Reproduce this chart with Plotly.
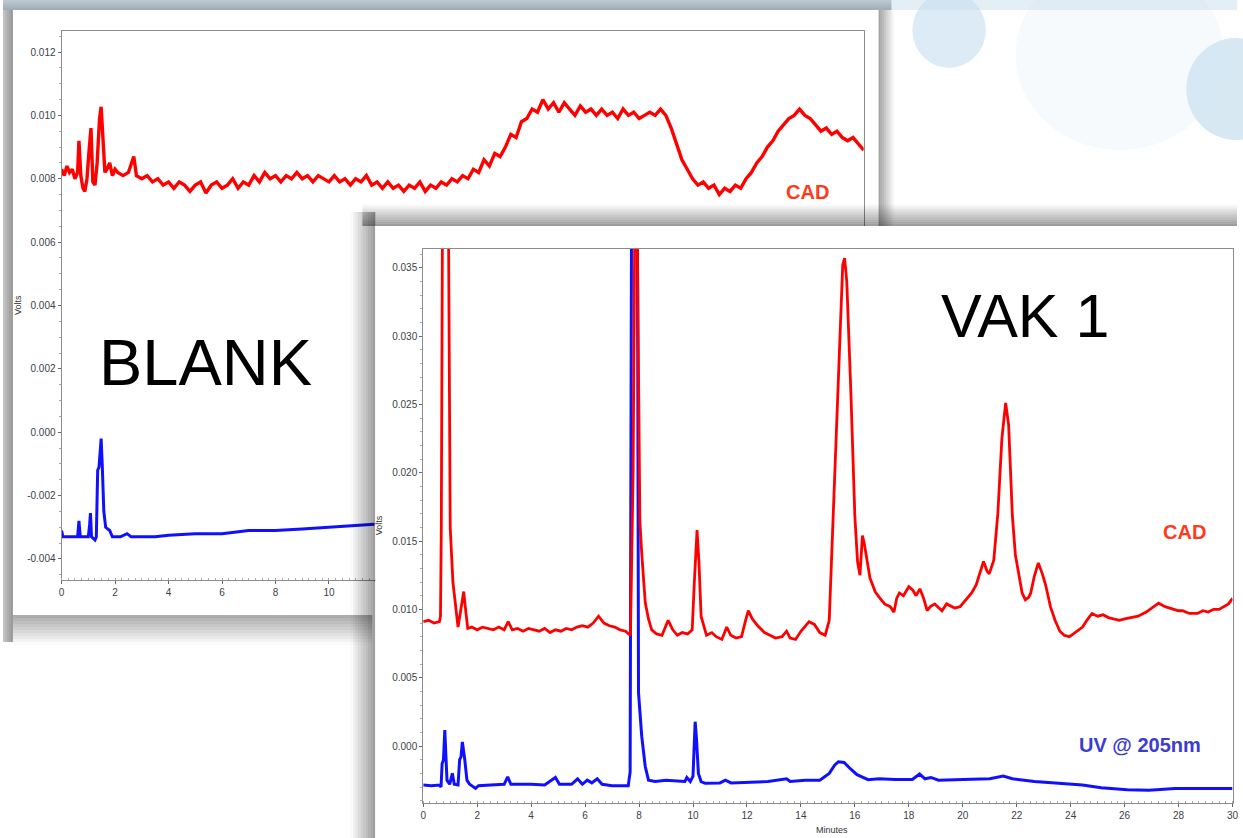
import plotly.graph_objects as go

W, H = 1243, 838

# ---------------- DATA ----------------
# BLANK run, CAD detector (red)
blank_cad_t = [0, 0.1, 0.2, 0.3, 0.4, 0.5, 0.6, 0.65, 0.72, 0.8, 0.87, 0.95, 1.02, 1.1, 1.17, 1.25,
               1.33, 1.42, 1.48, 1.55, 1.62, 1.7, 1.8, 1.9, 2.0, 2.1, 2.3, 2.5, 2.7, 2.8, 3.0, 3.2,
               3.4, 3.6, 3.8, 4.0, 4.2, 4.4, 4.6, 4.8, 5.0, 5.2, 5.4, 5.6, 5.8, 6.0, 6.2, 6.4, 6.6,
               6.8, 7.0, 7.2, 7.4, 7.6, 7.8, 8.0, 8.2, 8.4, 8.6, 8.8, 9.0, 9.2, 9.4, 9.6, 9.8, 10.0,
               10.2, 10.4, 10.6, 10.8, 11.0, 11.2, 11.4, 11.6, 11.8, 12.0, 12.2, 12.4, 12.6, 12.8,
               13.0, 13.2, 13.4, 13.6, 13.8, 14.0, 14.2, 14.4, 14.6, 14.8, 15.0, 15.2, 15.4, 15.6,
               15.8, 16.0, 16.2, 16.4, 16.6, 16.8, 17.0, 17.2, 17.4, 17.6, 17.8, 18.0, 18.2, 18.4,
               18.6, 18.8, 19.0, 19.2, 19.4, 19.6, 19.8, 20.0, 20.2, 20.4, 20.6, 20.8, 21.0, 21.2,
               21.4, 21.6, 21.8, 22.0, 22.2, 22.4, 22.6, 22.8, 23.0, 23.2, 23.4, 23.6, 23.8, 24.0,
               24.2, 24.4, 24.6, 24.8, 25.0, 25.2, 25.4, 25.6, 25.8, 26.0, 26.2, 26.4, 26.6, 26.8,
               27.0, 27.2, 27.4, 27.6, 27.8, 28.0, 28.2, 28.4, 28.6, 28.8, 29.0, 29.2, 29.4, 29.6,
               29.8, 30.0]
blank_cad_v = [0.0083, 0.0081, 0.0084, 0.0082, 0.0083, 0.0080, 0.0082, 0.0092, 0.0081, 0.0077,
               0.0076, 0.0080, 0.0088, 0.0096, 0.0079, 0.0078, 0.0085, 0.0099, 0.01027, 0.0092,
               0.0082, 0.0083, 0.0085, 0.0081, 0.0083, 0.0082, 0.0081, 0.0082, 0.0087, 0.0081,
               0.0080, 0.0081, 0.0079, 0.0080, 0.0078, 0.0079, 0.0077, 0.0079, 0.0078, 0.0076,
               0.0078, 0.0079, 0.00755, 0.0078, 0.0079, 0.0077, 0.0078, 0.0080, 0.0077, 0.0079,
               0.0078, 0.0081, 0.0079, 0.0082, 0.0080, 0.0081, 0.0079, 0.0081, 0.0080, 0.0082,
               0.0080, 0.0081, 0.0079, 0.0081, 0.0080, 0.0079, 0.0081, 0.0079, 0.0080, 0.0078,
               0.0080, 0.0079, 0.0081, 0.0078, 0.0079, 0.0077, 0.0079, 0.0077, 0.0078, 0.0076,
               0.0078, 0.0077, 0.0079, 0.0076, 0.0078, 0.0077, 0.0079, 0.0078, 0.0080, 0.0079,
               0.0081, 0.0080, 0.0083, 0.0082, 0.0086, 0.0084, 0.0088, 0.0087, 0.0090, 0.0094,
               0.0093, 0.0098, 0.0099, 0.0102, 0.0101, 0.0105, 0.0102, 0.0104, 0.0101, 0.0104,
               0.0102, 0.0100, 0.0103, 0.0101, 0.0102, 0.0100, 0.0102, 0.0100, 0.0101, 0.0099,
               0.0102, 0.0100, 0.0101, 0.0099, 0.0100, 0.0101, 0.0100, 0.0102, 0.0100, 0.0096,
               0.0091, 0.0086, 0.0083, 0.0080, 0.0078, 0.0079, 0.0077, 0.0078, 0.0075, 0.0077,
               0.0076, 0.0078, 0.0077, 0.0080, 0.0082, 0.0085, 0.0087, 0.0090, 0.0092, 0.0095,
               0.0097, 0.0099, 0.0100, 0.0102, 0.0100, 0.0099, 0.0097, 0.0095, 0.0096, 0.0094,
               0.0095, 0.0093, 0.0092, 0.0093, 0.0091, 0.0089]

# BLANK run, UV detector (blue) - visible part only (the rest is behind the VAK 1 sheet)
blank_uv_t = [0, 0.05, 0.6, 0.65, 0.7, 1.0, 1.05, 1.08, 1.12, 1.25, 1.3, 1.35, 1.4, 1.45, 1.48,
              1.52, 1.58, 1.65, 1.8, 1.9, 2.2, 2.45, 2.6, 3.5, 4.0, 5.0, 6.0, 7.0, 8.0, 9.0, 10.0,
              11.0, 11.7]
blank_uv_v = [-0.0031, -0.0033, -0.0033, -0.0028, -0.0033, -0.0033, -0.0029, -0.00255, -0.0033,
              -0.0034, -0.0033, -0.0012, -0.0011, -0.0006, -0.0002, -0.0010, -0.0025, -0.0030,
              -0.0031, -0.0033, -0.0033, -0.0032, -0.0033, -0.0033, -0.00325, -0.0032, -0.0032,
              -0.0031, -0.0031, -0.00305, -0.0030, -0.00295, -0.0029]

# VAK 1 run, CAD detector (red)
vak_cad_t = [0, 0.2, 0.4, 0.6, 0.64, 0.67, 0.71, 0.8, 0.94, 0.97, 1.0, 1.1, 1.17, 1.29, 1.38, 1.5,
             1.58, 1.65, 1.8, 2.0, 2.2, 2.4, 2.6, 2.8, 3.0, 3.15, 3.3, 3.5, 3.7, 3.9, 4.1, 4.3,
             4.5, 4.7, 4.9, 5.1, 5.3, 5.5, 5.7, 5.9, 6.1, 6.3, 6.5, 6.7, 6.9, 7.1, 7.3, 7.5, 7.68,
             7.78, 7.88, 7.98, 8.03, 8.1, 8.23, 8.35, 8.47, 8.65, 8.85, 9.08, 9.25, 9.42, 9.6,
             9.8, 9.97, 10.05, 10.15, 10.22, 10.3, 10.5, 10.7, 10.86, 11.07, 11.25, 11.4, 11.6,
             11.8, 11.95, 12.05, 12.2, 12.4, 12.65, 12.85, 13.06, 13.3, 13.47, 13.6, 13.8, 14.0,
             14.3, 14.5, 14.7, 14.9, 15.05, 15.2, 15.4, 15.55, 15.62, 15.7, 15.85, 16.0, 16.1,
             16.19, 16.28, 16.35, 16.56, 16.75, 16.9, 17.1, 17.31, 17.45, 17.55, 17.65, 17.8,
             18.0, 18.15, 18.27, 18.41, 18.55, 18.68, 18.8, 18.96, 19.1, 19.23, 19.4, 19.5, 19.7,
             19.9, 20.1, 20.33, 20.5, 20.6, 20.77, 20.9, 20.98, 21.15, 21.3, 21.45, 21.59, 21.7,
             21.84, 21.95, 22.04, 22.2, 22.32, 22.45, 22.52, 22.65, 22.8, 22.95, 23.07, 23.25,
             23.42, 23.6, 23.76, 23.95, 24.1, 24.3, 24.44, 24.6, 24.79, 25.0, 25.2, 25.4, 25.6,
             25.8, 26.0, 26.2, 26.5, 26.8, 27.0, 27.26, 27.5, 27.8, 28.0, 28.15, 28.4, 28.7, 28.9,
             29.1, 29.3, 29.5, 29.7, 29.85, 30.0]
vak_cad_v = [0.0091, 0.0092, 0.0090, 0.0091, 0.0095, 0.016, 0.037, 0.060, 0.037, 0.028, 0.0160,
             0.0120, 0.0108, 0.0087, 0.0098, 0.0113, 0.0098, 0.0086, 0.0087, 0.0085, 0.0087,
             0.0086, 0.0085, 0.0087, 0.0085, 0.0091, 0.0085, 0.0086, 0.0084, 0.0086, 0.0085,
             0.0084, 0.0086, 0.0083, 0.0085, 0.0084, 0.0086, 0.0085, 0.0087, 0.0088, 0.0087,
             0.0090, 0.0095, 0.0090, 0.0088, 0.0087, 0.0085, 0.0084, 0.0081, 0.020, 0.050, 0.030,
             0.0165, 0.0141, 0.0105, 0.0093, 0.0085, 0.0082, 0.0081, 0.0092, 0.0085, 0.0081,
             0.0083, 0.0082, 0.0085, 0.0120, 0.0158, 0.0135, 0.0095, 0.0081, 0.0083, 0.0080,
             0.0078, 0.0087, 0.0081, 0.0079, 0.0080, 0.0092, 0.0099, 0.0093, 0.0088, 0.0083,
             0.0081, 0.0079, 0.0080, 0.0084, 0.0079, 0.0078, 0.0084, 0.0091, 0.0089, 0.0083,
             0.0081, 0.0092, 0.0170, 0.0280, 0.0352, 0.0357, 0.0340, 0.0260, 0.0168, 0.0135,
             0.0125, 0.0154, 0.0148, 0.0123, 0.0113, 0.0109, 0.0104, 0.0102, 0.0098, 0.0108,
             0.0112, 0.0110, 0.01166, 0.0114, 0.0110, 0.0115, 0.0108, 0.0099, 0.0102, 0.0104,
             0.0101, 0.0099, 0.0104, 0.0103, 0.0101, 0.0102, 0.0107, 0.0112, 0.0118, 0.0124,
             0.0135, 0.0128, 0.0126, 0.0136, 0.0170, 0.0225, 0.0251, 0.0235, 0.0168, 0.0140,
             0.0129, 0.0112, 0.0107, 0.0109, 0.0112, 0.0124, 0.0134, 0.0126, 0.0118, 0.0102,
             0.0092, 0.0084, 0.0081, 0.0080, 0.0082, 0.0085, 0.0087, 0.0092, 0.0097, 0.0095,
             0.0096, 0.0094, 0.0093, 0.0092, 0.0093, 0.0094, 0.0095, 0.0098, 0.0101, 0.01045,
             0.0102, 0.0100, 0.0099, 0.0099, 0.0097, 0.0097, 0.0099, 0.0098, 0.0100, 0.0100,
             0.0102, 0.0104, 0.0108]

# VAK 1 run, UV @ 205 nm (blue)
vak_uv_t = [0, 0.3, 0.6, 0.66, 0.7, 0.75, 0.8, 0.84, 0.88, 0.98, 1.08, 1.15, 1.29, 1.35, 1.4,
            1.45, 1.5, 1.54, 1.62, 1.72, 1.94, 2.05, 2.5, 3.0, 3.13, 3.25, 4.0, 4.5, 4.9, 5.05,
            5.5, 5.72, 5.9, 6.08, 6.25, 6.45, 6.63, 7.0, 7.6, 7.67, 7.71, 7.78, 7.9, 7.95, 7.98,
            8.1, 8.23, 8.35, 8.6, 9.0, 9.5, 9.7, 9.77, 9.9, 10.0, 10.05, 10.08, 10.13, 10.2,
            10.3, 10.45, 11.0, 11.2, 11.41, 12.0, 12.78, 13.47, 13.6, 14.16, 14.7, 15.05, 15.25,
            15.39, 15.6, 15.85, 16.08, 16.49, 16.9, 17.5, 18.13, 18.4, 18.6, 18.82, 19.1, 20.33,
            21.0, 21.5, 21.84, 22.66, 23.5, 24.44, 25.13, 26.1, 26.9, 27.87, 29.0, 30.0]
vak_uv_v = [-0.00285, -0.0029, -0.00285, -0.0030, -0.0013, -0.0010, 0.00117, -0.0010, -0.0025,
            -0.0028, -0.0020, -0.0028, -0.00285, -0.0010, -0.0008, 0.0003, -0.0003, -0.0010,
            -0.0025, -0.0028, -0.0031, -0.0029, -0.00285, -0.0028, -0.00225, -0.0028, -0.0028,
            -0.00285, -0.0023, -0.0028, -0.0028, -0.0024, -0.0028, -0.0025, -0.0027, -0.0024,
            -0.0028, -0.0029, -0.0029, -0.0019, 0.030, 0.080, 0.070, 0.030, 0.0039, 0.0007,
            -0.0015, -0.0025, -0.0026, -0.0025, -0.0026, -0.0026, -0.0023, -0.0026, -0.0022,
            0.0010, 0.00178, 0.0005, -0.0020, -0.0026, -0.00273, -0.0027, -0.0025, -0.0027,
            -0.00265, -0.0026, -0.0024, -0.0026, -0.0025, -0.0025, -0.0020, -0.0014, -0.00115,
            -0.0012, -0.0017, -0.0021, -0.00246, -0.0024, -0.00245, -0.00245, -0.00205, -0.0024,
            -0.0023, -0.0025, -0.00244, -0.0024, -0.0022, -0.0024, -0.0026, -0.0027, -0.00285,
            -0.00305, -0.0032, -0.00323, -0.0031, -0.0031, -0.0031]

# axis ticks
minute_ticks = [0, 2, 4, 6, 8, 10, 12, 14, 16, 18, 20, 22, 24, 26, 28, 30]
blank_volt_ticks = [-0.004, -0.002, 0.0, 0.002, 0.004, 0.006, 0.008, 0.010, 0.012]
blank_volt_labels = ["-0.004", "-0.002", "0.000", "0.002", "0.004", "0.006", "0.008", "0.010", "0.012"]
vak_volt_ticks = [0.0, 0.005, 0.010, 0.015, 0.020, 0.025, 0.030, 0.035]
vak_volt_labels = ["0.000", "0.005", "0.010", "0.015", "0.020", "0.025", "0.030", "0.035"]

# ---------------- LAYOUT helpers (pixel -> paper) ----------------
def fx(p):
    return p / W

def fy(p):
    return 1 - p / H

RED = "#ff0000"
BLUE = "#1010ff"
FONT = "Liberation Sans, Arial, sans-serif"

fig = go.Figure()

# ---- panel 1 (BLANK) traces : subplot xy ----
fig.add_trace(go.Scatter(x=blank_uv_t, y=blank_uv_v, mode="lines",
                         line=dict(color=BLUE, width=3), xaxis="x", yaxis="y",
                         hoverinfo="skip", showlegend=False))
fig.add_trace(go.Scatter(x=blank_cad_t, y=blank_cad_v, mode="lines",
                         line=dict(color=RED, width=3.4), xaxis="x", yaxis="y",
                         hoverinfo="skip", showlegend=False))

# ---- decoration subplot x2y2 (full page, pixel coordinates): shadows & 2nd sheet ----
def rect_trace(x0, y0, x1, y1, color):
    return go.Scatter(x=[x0, x1, x1, x0, x0], y=[y0, y0, y1, y1, y0], fill="toself",
                      mode="lines", line=dict(width=0, color="rgba(0,0,0,0)"), fillcolor=color,
                      xaxis="x2", yaxis="y2", hoverinfo="skip", showlegend=False)

def shadow(x0, y0, x1, y1, direction, a0, a1, rgb=(0, 0, 0), n=8):
    """soft shadow made of n strips, alpha going from a0 (start side) to a1 (end side)"""
    out = []
    for i in range(n):
        a = a0 + (a1 - a0) * (i + 0.5) / n
        col = "rgba(%d,%d,%d,%.3f)" % (rgb[0], rgb[1], rgb[2], a)
        if direction == "h":
            xa = x0 + (x1 - x0) * i / n
            xb = x0 + (x1 - x0) * (i + 1) / n
            out.append(rect_trace(xa, y0, xb, y1, col))
        else:
            ya = y0 + (y1 - y0) * i / n
            yb = y0 + (y1 - y0) * (i + 1) / n
            out.append(rect_trace(x0, ya, x1, yb, col))
    return out

decor = []
# background strip above the BLANK sheet (grey-blue)
decor += shadow(0, 0, 895, 10, "v", 0.55, 0.85, rgb=(140, 158, 172), n=5)
# shadows around the BLANK sheet
decor += shadow(0, 10, 10, 642, "h", 0.22, 0.42, n=5)
decor += shadow(10, 615, 372, 645, "v", 0.34, 0.0, n=10)
decor += shadow(882, 10, 898, 226, "h", 0.38, 0.0, n=8)
# shadow of the VAK 1 sheet
decor += shadow(350, 212, 375, 838, "h", 0.0, 0.40, n=10)
decor += shadow(362, 204, 1243, 226, "v", 0.0, 0.40, n=10)
# VAK 1 sheet
decor.append(rect_trace(375, 226, 1243, 838, "#ffffff"))
for tr in decor:
    fig.add_trace(tr)

# ---- panel 2 (VAK 1) traces : subplot x3y3 ----
fig.add_trace(go.Scatter(x=vak_uv_t, y=vak_uv_v, mode="lines",
                         line=dict(color=BLUE, width=3), xaxis="x3", yaxis="y3",
                         hoverinfo="skip", showlegend=False))
fig.add_trace(go.Scatter(x=vak_cad_t, y=vak_cad_v, mode="lines",
                         line=dict(color=RED, width=2.8), xaxis="x3", yaxis="y3",
                         hoverinfo="skip", showlegend=False))

axis_common = dict(showline=True, linecolor="#8c8c8c", linewidth=1, mirror=True,
                   showgrid=False, zeroline=False, ticks="outside", ticklen=3,
                   tickcolor="#666", tickfont=dict(family=FONT, size=10, color="#3a3f4a"))

fig.update_layout(
    width=W, height=H, margin=dict(l=0, r=0, t=0, b=0),
    paper_bgcolor="#ffffff", plot_bgcolor="rgba(0,0,0,0)",
    hovermode=False, showlegend=False,
    xaxis=dict(domain=[fx(59), fx(867)], range=[0, 30], anchor="y", tickvals=minute_ticks,
               minor=dict(dtick=0.25, ticks="inside", ticklen=2, tickcolor="#aaa"), **axis_common),
    yaxis=dict(domain=[fy(580), fy(31)], range=[-0.004663, 0.012663], anchor="x",
               tickvals=blank_volt_ticks, ticktext=blank_volt_labels,
               minor=dict(dtick=0.0005, ticks="outside", ticklen=2, tickcolor="#aaa"), **axis_common),
    xaxis2=dict(domain=[0, 1], range=[0, W], visible=False, anchor="y2"),
    yaxis2=dict(domain=[0, 1], range=[H, 0], visible=False, anchor="x2"),
    xaxis3=dict(domain=[fx(423.3), fx(1238.5)], range=[0, 30], anchor="y3", tickvals=minute_ticks,
                minor=dict(dtick=0.25, ticks="inside", ticklen=2, tickcolor="#aaa"), **axis_common),
    yaxis3=dict(domain=[fy(803), fy(249)], range=[-0.00417, 0.03637], anchor="x3",
                tickvals=vak_volt_ticks, ticktext=vak_volt_labels,
                minor=dict(dtick=0.001, ticks="outside", ticklen=2, tickcolor="#aaa"), **axis_common),
)

# background: soft blue blobs (decoration)
shapes = [
    dict(type="circle", xref="paper", yref="paper", x0=fx(1020), x1=fx(1230), y0=fy(150), y1=fy(-40),
         fillcolor="rgba(228,240,247,0.35)", line=dict(width=0), layer="below"),
    dict(type="circle", xref="paper", yref="paper", x0=fx(916), x1=fx(990), y0=fy(68), y1=fy(-8),
         fillcolor="rgba(214,232,244,0.85)", line=dict(width=0), layer="below"),
    dict(type="circle", xref="paper", yref="paper", x0=fx(1192), x1=fx(1292), y0=fy(140), y1=fy(38),
         fillcolor="rgba(208,228,241,0.85)", line=dict(width=0), layer="below"),
    dict(type="rect", xref="paper", yref="paper", x0=fx(895), x1=fx(1243), y0=fy(10), y1=fy(0),
         fillcolor="rgba(200,222,236,0.5)", line=dict(width=0), layer="below"),
    dict(type="rect", xref="paper", yref="paper", x0=fx(10), x1=fx(882), y0=fy(615), y1=fy(10),
         fillcolor="#ffffff", line=dict(width=0), layer="below"),
]
fig.update_layout(shapes=shapes)

def ann(text, x, y, size, color, bold=False, angle=0):
    return dict(text=text, x=fx(x), y=fy(y), xref="paper", yref="paper", showarrow=False,
                xanchor="center", yanchor="middle", textangle=angle,
                font=dict(family=FONT, size=size, color=color, weight="bold" if bold else "normal"))

fig.update_layout(annotations=[
    ann("BLANK", 204, 362, 65, "#000000"),
    ann("VAK 1", 1029, 316, 61, "#000000"),
    ann("CAD", 810, 192, 20, "#ff3a1c", bold=True),
    ann("CAD", 1190, 532, 20, "#ff3a1c", bold=True),
    ann("UV @ 205nm", 1145, 745, 20, "#3c3cd0", bold=True),
    ann("Volts", 15, 305, 9, "#333333", angle=-90),
    ann("Volts", 379, 525, 9, "#333333", angle=-90),
    ann("Minutes", 835, 830, 9, "#333333"),
])

fig.write_html("out.html", config={"displayModeBar": False},
               post_script="document.documentElement.style.margin='0';"
                           "document.body.style.margin='0';document.body.style.overflow='hidden';")
